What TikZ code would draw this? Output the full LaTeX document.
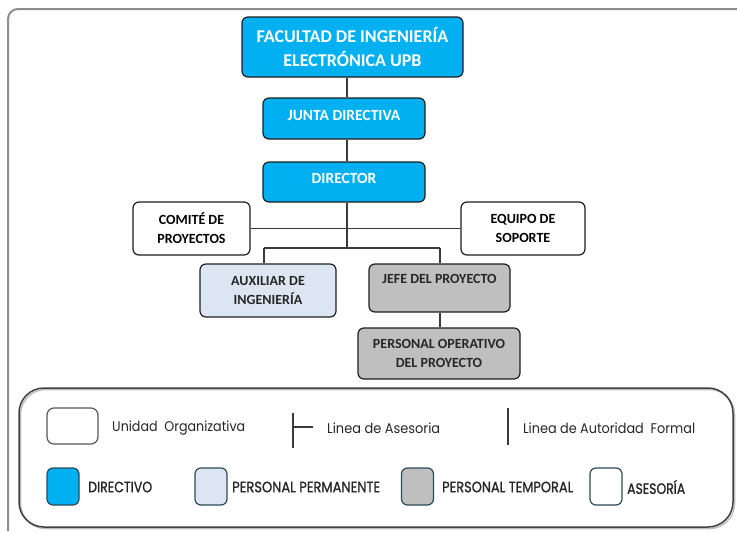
\documentclass[tikz,border=0pt]{standalone}
\usepackage{fontspec}
\usepackage{graphicx}
\newfontfamily\calfont{Carlito}
\newfontfamily\legfont{Poppins}
\newfontfamily\legfontb{Poppins}[FakeBold=1.2]
\definecolor{dirblue}{HTML}{00B0F0}
\definecolor{permblue}{HTML}{DCE6F2}
\definecolor{tempgray}{HTML}{BFBFBF}
\definecolor{boxborder}{HTML}{1E1E1E}
\definecolor{txtdark}{HTML}{262626}
\definecolor{linegray}{HTML}{3A3A3A}
\definecolor{framegray}{HTML}{8C8C8C}
\definecolor{legborder}{HTML}{404040}
\definecolor{legbox}{HTML}{2E4A58}
\newcommand{\fitw}[2]{\resizebox{#1}{\height}{#2}}
\tikzset{
  orgbox/.style={draw=boxborder, line width=1.2pt, rounded corners=6pt, inner sep=0pt, align=center},
  dirbox/.style={orgbox, fill=dirblue, text=white},
  asebox/.style={orgbox, fill=white, text=black},
  permbox/.style={orgbox, fill=permblue, text=txtdark},
  tempbox/.style={orgbox, fill=tempgray, text=txtdark},
  conn/.style={draw=linegray, line width=1.2pt},
  fxviii/.style={font=\calfont\bfseries\fontsize{18}{24}\selectfont},
  fxv/.style={font=\calfont\bfseries\fontsize{15.5}{19}\selectfont},
  fxiv/.style={font=\calfont\bfseries\fontsize{14}{19}\selectfont},
  legsq/.style={draw=legbox, line width=1.2pt, rounded corners=6pt, inner sep=0pt, minimum width=32pt, minimum height=37pt},
  legtxt/.style={anchor=west, inner sep=0pt, text=txtdark, font=\legfont\fontsize{14}{16}\selectfont},
  legcap/.style={anchor=west, inner sep=0pt, text=txtdark, font=\legfontb\fontsize{15}{17}\selectfont},
}
\begin{document}
\begin{tikzpicture}[x=1pt,y=-1pt]
\useasboundingbox (0,0) rectangle (737,533);
% outer frame
\draw[framegray, line width=2pt, rounded corners=10pt] (8,531) -- (8,9) -- (738,9);
% org nodes
\node[dirbox, fxviii, minimum width=221pt, minimum height=60pt] (fac) at (352.5,47) {FACULTAD DE INGENIERÍA\\ELECTRÓNICA UPB};
\node[dirbox, fxv, minimum width=162pt, minimum height=41pt, text depth=7pt] (junta) at (344,118.5) {JUNTA DIRECTIVA};
\node[dirbox, fxv, minimum width=162pt, minimum height=40pt, text depth=7pt] (dir) at (344,182) {DIRECTOR};
\node[asebox, fxiv, minimum width=117pt, minimum height=53pt] (comite) at (191.5,228.5) {COMITÉ DE\\PROYECTOS};
\node[asebox, fxiv, minimum width=124pt, minimum height=53pt] (equipo) at (523,228.5) {EQUIPO DE\\SOPORTE};
\node[permbox, fxiv, minimum width=136pt, minimum height=53pt] (aux) at (268,290.5) {AUXILIAR DE\\INGENIERÍA};
\node[tempbox, fxiv, minimum width=141pt, minimum height=48pt, text depth=19pt] (jefe) at (439.5,288) {JEFE DEL PROYECTO};
\node[tempbox, fxiv, minimum width=162pt, minimum height=51pt] (pers) at (439,353.5) {PERSONAL OPERATIVO\\DEL PROYECTO};
% connectors
\coordinate (vx) at (347,0);
\coordinate (hub) at (347,248);
\coordinate (al) at (264,248);
\coordinate (ar) at (440,248);
\draw[conn] (fac.south -| vx) -- (junta.north -| vx);
\draw[conn] (junta.south -| vx) -- (dir.north -| vx);
\draw[conn] (dir.south -| vx) -- (hub);
\draw[conn] (comite.east) -- (equipo.west);
\draw[conn] (al) -- (ar);
\draw[conn] (al) -- (al |- aux.north);
\draw[conn] (ar) -- (ar |- jefe.north);
\draw[conn] (jefe.south -| ar) -- (pers.north -| ar);
% legend frame
\draw[black!25, line width=1.5pt, rounded corners=25pt] (20.5,389.5) rectangle (734.5,528.5);
\draw[legborder, line width=1.5pt, rounded corners=25pt] (19,388) rectangle (733,527);
% legend row 1
\node[draw=black!65, line width=1.2pt, rounded corners=7pt, minimum width=51pt, minimum height=36pt, inner sep=0pt, fill=white] (lu) at (72.5,426) {};
\node[legtxt] (lut) at (112,428) {\fitw{133pt}{Unidad\ \ Organizativa}};
\coordinate (asv1) at (293,413);
\coordinate (asv2) at (293,448);
\coordinate (ash1) at (293,427);
\coordinate (ash2) at (313,427);
\draw[linegray, line width=1.2pt] (asv1) -- (asv2);
\draw[linegray, line width=1.2pt] (ash1) -- (ash2);
\node[legtxt] (last) at (327,428) {\fitw{113pt}{Linea de Asesoria}};
\coordinate (fv1) at (508,408);
\coordinate (fv2) at (508,445);
\draw[linegray, line width=1.2pt] (fv1) -- (fv2);
\node[legtxt] (laft) at (523,428) {\fitw{172pt}{Linea de Autoridad\ \ Formal}};
% legend row 2
\node[legsq, fill=dirblue] (ld) at (63,486.5) {};
\node[legcap] (ldt) at (88,487) {\fitw{64pt}{DIRECTIVO}};
\node[legsq, fill=permblue] (lp) at (211,486.5) {};
\node[legcap] (lpt) at (232,487) {\fitw{148pt}{PERSONAL PERMANENTE}};
\node[legsq, fill=tempgray] (lt) at (417.5,486.5) {};
\node[legcap] (ltt) at (442,487) {\fitw{131pt}{PERSONAL TEMPORAL}};
\node[legsq, fill=white] (la) at (606,486.5) {};
\node[legcap] (lat) at (627,487) {\fitw{58pt}{ASESORÍA}};
\end{tikzpicture}
\end{document}
